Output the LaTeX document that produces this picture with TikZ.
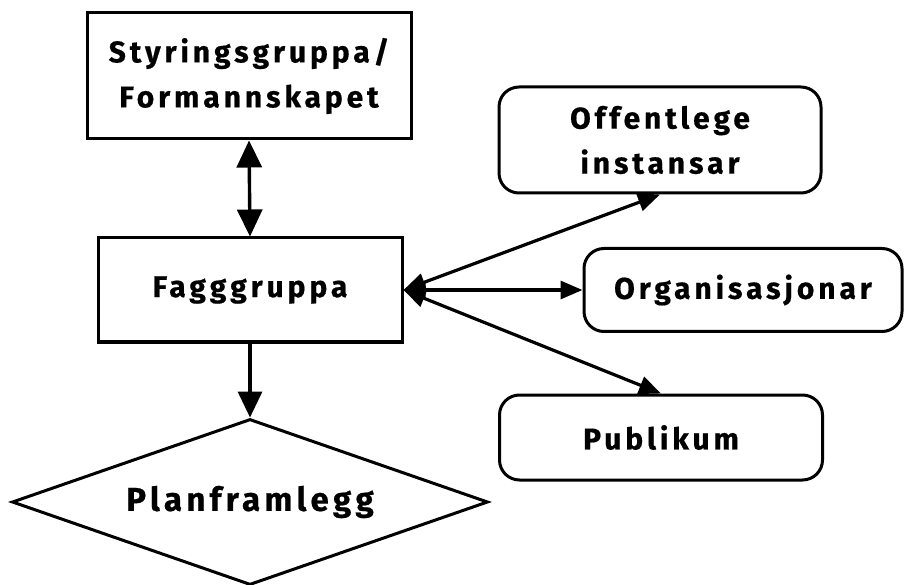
\documentclass[tikz,border=0pt]{standalone}
\usepackage{fontspec}
\setmainfont{Fira Sans}[LetterSpace=13, BoldFeatures={FakeBold=0.6}]
\usetikzlibrary{arrows.meta,shapes.geometric}
\tikzset{
  lbl/.style={font=\bfseries\fontsize{30}{45}\selectfont, align=center, text=black},
  sqbox/.style={draw, line width=3pt, lbl, inner sep=0pt},
  rbox/.style={draw, line width=3pt, rounded corners=20pt, lbl, inner sep=0pt},
  link/.style={line width=3.4pt, -{Triangle[length=26pt,width=24pt]}},
  dlink/.style={line width=3.4pt, {Triangle[length=27pt,width=25pt]}-{Triangle[length=27pt,width=25pt]}},
  slink/.style={line width=3.2pt, {Triangle[length=22pt,width=18pt]}-{Triangle[length=22pt,width=18pt]}}
}
\begin{document}
\begin{tikzpicture}[x=1pt,y=-1pt]
\useasboundingbox (0,0) rectangle (905,585);
\node[sqbox, minimum width=324pt, minimum height=126pt] (sty) at (249,76) {Styringsgruppa/\\Formannskapet};
\node[sqbox, minimum width=304pt, minimum height=104pt] (fag) at (250,290) {Fagggruppa};
\node[draw, line width=3pt, shape=diamond, inner sep=0pt, aspect=2.87,
      minimum width=476pt, minimum height=166pt, lbl, font=\bfseries\fontsize{33}{38}\selectfont] (pla) at (250,502) {Planframlegg};
\node[rbox, minimum width=322pt, minimum height=106pt] (off) at (660,140) {Offentlege\\instansar};
\node[rbox, minimum width=318pt, minimum height=83pt] (org) at (743,290) {Organisasjonar};
\node[rbox, minimum width=323pt, minimum height=85pt] (pub) at (661,437.5) {Publikum};
\draw[dlink] (sty.south) -- (fag.north);
\draw[link] (fag.south) -- (pla.north);
\draw[slink] (fag.east) -- (off.south);
\draw[slink] (fag.east) -- (org.west);
\draw[slink] (fag.east) -- (pub.north);
\end{tikzpicture}
\end{document}
